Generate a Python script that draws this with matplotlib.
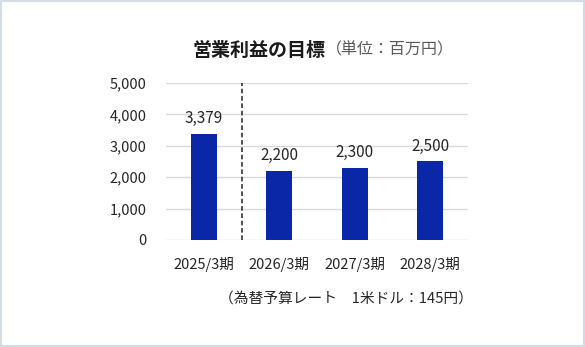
import matplotlib.pyplot as plt
from matplotlib.patches import Rectangle

plt.rcParams['font.family'] = ['Noto Sans CJK JP', 'DejaVu Sans']

periods = ['2025/3期', '2026/3期', '2027/3期', '2028/3期']
profit = [3379, 2200, 2300, 2500]
yticks = [0, 1000, 2000, 3000, 4000, 5000]

bar_color = '#0a27a8'
text_color = '#262626'

fig = plt.figure(figsize=(5.85, 3.47), dpi=100, facecolor='white')
ax = fig.add_axes([0.2838, 0.3084, 0.5162, 0.4524])

x = range(len(periods))
ax.bar(x, profit, width=0.34, color=bar_color, zorder=3)

for xi, v in zip(x, profit):
    ax.annotate(f'{v:,}', xy=(xi, v), xytext=(0, 5), textcoords='offset points',
                ha='center', va='bottom', fontsize=11, color=text_color)

# actual result vs. plan divider
ax.axvline(0.5, ymin=0, ymax=1, color='#222222', linestyle=(0, (3, 1.8)), linewidth=1.1, zorder=2)

ax.set_xlim(-0.5, len(periods) - 0.5)
ax.set_ylim(0, 5000)
ax.set_yticks(yticks)
ax.set_yticklabels([f'{t:,}' for t in yticks])
ax.set_xticks(list(x))
ax.set_xticklabels(periods)
ax.tick_params(axis='both', length=0, labelsize=10.5, colors=text_color)
ax.tick_params(axis='y', pad=14)
ax.tick_params(axis='x', pad=12)

ax.grid(axis='y', color='#d9d9d9', linewidth=1, zorder=0)
ax.set_axisbelow(True)
for s in ax.spines.values():
    s.set_visible(False)

# title in two parts: bold main title and smaller unit note
fig.text(0.329, 0.855, '営業利益の目標', fontsize=13.7, fontweight='bold',
         color='#1a1a1a', ha='left', va='center')
fig.text(0.557, 0.855, '（単位：百万円）', fontsize=11.5, color='#595959',
         ha='left', va='center')

fig.text(0.808, 0.138, '（為替予算レート　1米ドル：145円）', fontsize=10.6,
         color=text_color, ha='right', va='center')

# thin frame around the panel
fig.patches.append(Rectangle((0, 0), 1, 1, transform=fig.transFigure,
                             fill=False, edgecolor='#d5dbe5', linewidth=3))

fig.savefig('out.png', dpi=100, facecolor='white')
